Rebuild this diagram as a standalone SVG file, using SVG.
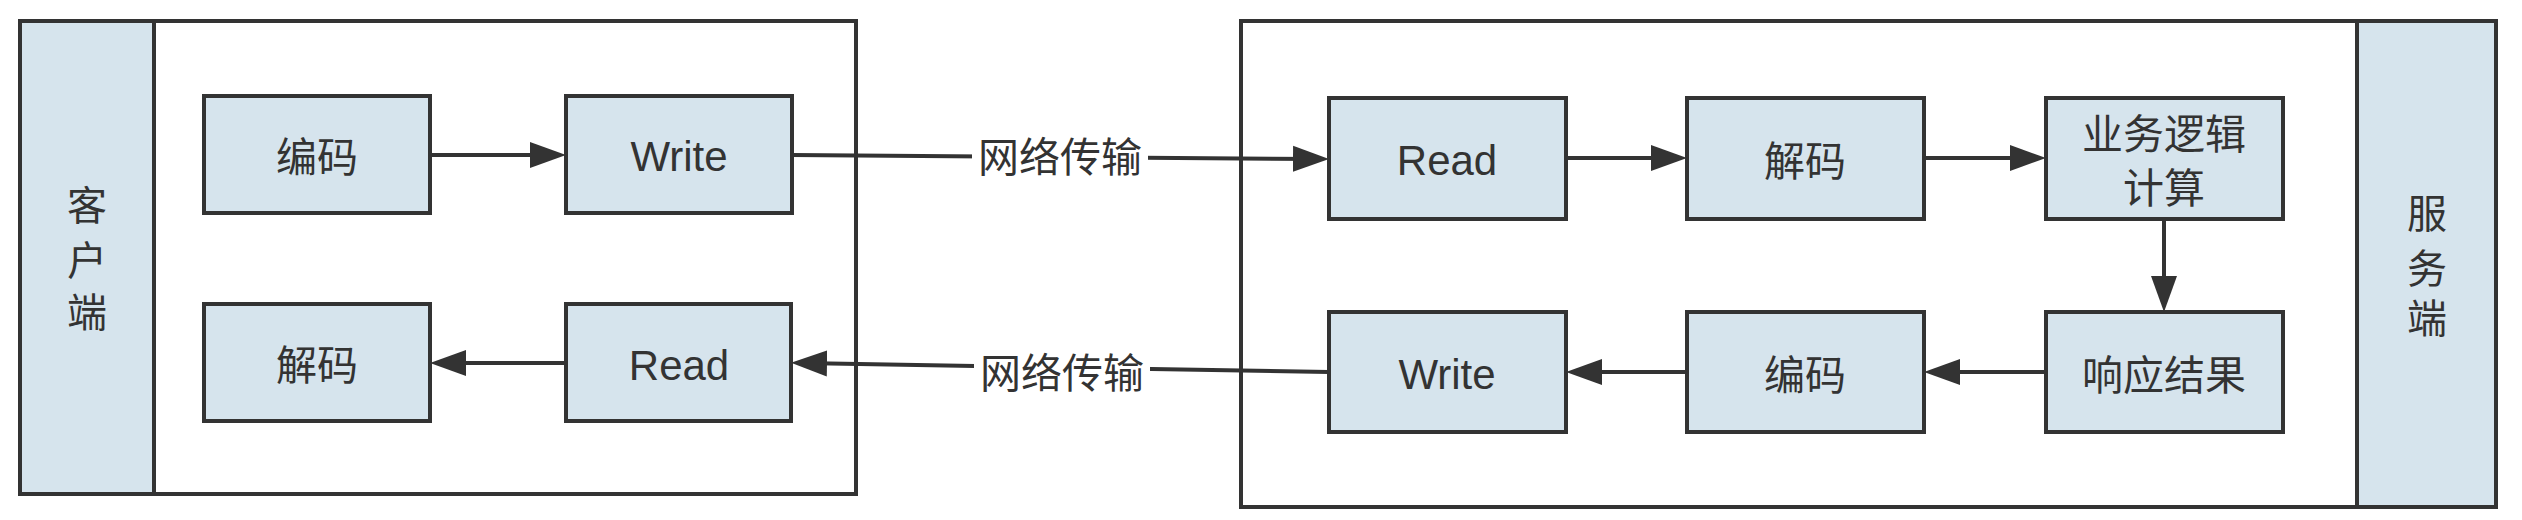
<svg xmlns="http://www.w3.org/2000/svg" width="2522" height="520" viewBox="0 0 2522 520">
<style>
.frame{fill:#ffffff;stroke:#333333;stroke-width:4}
.band{fill:#d6e4ed;stroke:#333333;stroke-width:4}
.box{fill:#d6e4ed;stroke:#333333;stroke-width:4}
.t{font-family:"Liberation Sans","Noto Sans CJK SC",sans-serif;font-size:42px;fill:#333333;text-anchor:middle}
.cjk{font-family:"Liberation Sans","Noto Sans CJK SC",sans-serif;font-size:41px;fill:#333333;text-anchor:middle}
.side{font-family:"Liberation Sans","Noto Sans CJK SC",sans-serif;font-size:40px;fill:#333333;text-anchor:middle}
.line{fill:none;stroke:#333333;stroke-width:4}
.lblbg{fill:#ffffff}
</style>
<defs>
<marker id="arr" markerUnits="userSpaceOnUse" markerWidth="38" markerHeight="28" viewBox="0 0 38 28" refX="26" refY="14" orient="auto">
<path d="M0,1 L36,14 L0,27 z" fill="#333333"/>
</marker>
</defs>
<g id="client">
<rect class="frame" x="20" y="21" width="836" height="473"/>
<rect class="band" x="20" y="21" width="134" height="473"/>
<text class="side" x="87" y="220">客<tspan x="87" dy="55">户</tspan><tspan x="87" dy="52">端</tspan></text>
</g>
<g id="server">
<rect class="frame" x="1241" y="21" width="1255" height="486"/>
<rect class="band" x="2357" y="21" width="139" height="486"/>
<text class="side" x="2427" y="228">服<tspan x="2427" dy="55">务</tspan><tspan x="2427" dy="50">端</tspan></text>
</g>
<g id="connectors">
<path class="line" d="M430,155 L556,155" marker-end="url(#arr)"/>
<path class="line" d="M792,155 L1319,159" marker-end="url(#arr)"/>
<path class="line" d="M1566,158 L1677,158" marker-end="url(#arr)"/>
<path class="line" d="M1924,158 L2036,158" marker-end="url(#arr)"/>
<path class="line" d="M2164,219 L2164,302" marker-end="url(#arr)"/>
<path class="line" d="M2046,372 L1934,372" marker-end="url(#arr)"/>
<path class="line" d="M1687,372 L1576,372" marker-end="url(#arr)"/>
<path class="line" d="M1329,372 L801,363" marker-end="url(#arr)"/>
<path class="line" d="M566,363 L440,363" marker-end="url(#arr)"/>
<rect class="lblbg" x="972" y="136" width="176" height="42"/>
<text class="cjk" x="1060" y="172">网络传输</text>
<rect class="lblbg" x="974" y="352" width="176" height="42"/>
<text class="cjk" x="1062" y="388">网络传输</text>
</g>
<g id="c_encode">
<rect class="box" x="204" y="96" width="226" height="117"/>
<text class="cjk" x="317" y="172">编码</text>
</g>
<g id="c_write">
<rect class="box" x="566" y="96" width="226" height="117"/>
<text class="t" x="679" y="171">Write</text>
</g>
<g id="c_decode">
<rect class="box" x="204" y="304" width="226" height="117"/>
<text class="cjk" x="317" y="380">解码</text>
</g>
<g id="c_read">
<rect class="box" x="566" y="304" width="225" height="117"/>
<text class="t" x="679" y="380">Read</text>
</g>
<g id="s_read">
<rect class="box" x="1329" y="98" width="237" height="121"/>
<text class="t" x="1447" y="175">Read</text>
</g>
<g id="s_decode">
<rect class="box" x="1687" y="98" width="237" height="121"/>
<text class="cjk" x="1805" y="176">解码</text>
</g>
<g id="s_logic">
<rect class="box" x="2046" y="98" width="237" height="121"/>
<text class="cjk" x="2164" y="149">业务逻辑<tspan x="2164" dy="54">计算</tspan></text>
</g>
<g id="s_result">
<rect class="box" x="2046" y="312" width="237" height="120"/>
<text class="cjk" x="2164" y="390">响应结果</text>
</g>
<g id="s_encode">
<rect class="box" x="1687" y="312" width="237" height="120"/>
<text class="cjk" x="1805" y="390">编码</text>
</g>
<g id="s_write">
<rect class="box" x="1329" y="312" width="237" height="120"/>
<text class="t" x="1447" y="389">Write</text>
</g>
</svg>
